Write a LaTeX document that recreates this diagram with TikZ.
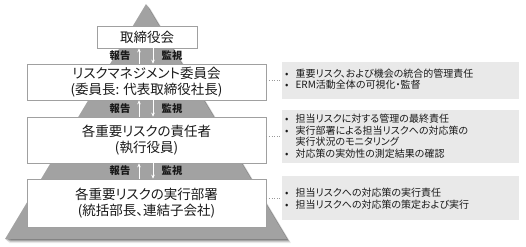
\documentclass[tikz,border=0pt]{standalone}
\usepackage{fontspec}
\setmainfont{Noto Sans CJK JP}[RawFeature=+palt]
\usetikzlibrary{arrows.meta}
\definecolor{tri}{RGB}{162,162,162}
\definecolor{boxline}{RGB}{160,160,160}
\definecolor{infofill}{RGB}{233,233,233}
\definecolor{txt}{RGB}{25,25,25}
\begin{document}
\begin{tikzpicture}[x=1pt,y=-1pt,
  mainbox/.style={draw=boxline, line width=0.7pt, fill=white, inner sep=0pt, align=center,
    font=\fontsize{13.5}{16}\selectfont, text=txt},
  infobox/.style={fill=infofill, draw=none, inner sep=0pt},
  lbl/.style={font=\bfseries\fontsize{10.3}{12}\selectfont, text=txt, inner sep=0pt},
  wa/.style={draw=white, line width=0.8pt, -{Stealth[length=4pt,width=3.6pt]}},
  dots/.style={draw=gray!80, dotted, line width=0.6pt},
  infotext/.style={anchor=west, inner sep=0pt, font=\fontsize{10}{11}\selectfont, align=left, text=txt}
]
\useasboundingbox (0,0) rectangle (526,246);
% pyramid with soft shadow
\foreach \o/\op in {4/0.08,3/0.12,2/0.18,1/0.25}{
  \fill[black, opacity=\op] (146+\o,4+\o) -- (5+\o,239+\o) -- (287+\o,239+\o) -- cycle;
}
\fill[tri] (146,4) -- (5,239) -- (287,239) -- cycle;

% right info boxes
\node[infobox, minimum width=237pt, minimum height=37pt] (i1) at (400.5,80.5) {};
\node[infobox, minimum width=237pt, minimum height=53pt] (i2) at (400.5,136.5) {};
\node[infobox, minimum width=237pt, minimum height=44pt] (i3) at (400.5,198) {};

% main boxes
\node[mainbox, minimum width=100pt, minimum height=22pt] (bd) at (147,37) {取締役会};
\node[mainbox, minimum width=239pt, minimum height=36pt] (cm) at (146.5,82) {リスクマネジメント委員会\\(委員長: 代表取締役社長)};
\node[mainbox, minimum width=239pt, minimum height=46pt] (rs) at (146.5,140) {各重要リスクの責任者\\(執行役員)};
\node[mainbox, minimum width=239pt, minimum height=48pt] (ex) at (146.5,203) {各重要リスクの実行部署\\(統括部長、連結子会社)};

% arrows
\coordinate (ax1) at (139,0);
\coordinate (ax2) at (153,0);
\draw[wa] (ax1 |- cm.north) -- (ax1 |- bd.south);
\draw[wa] (ax2 |- bd.south) -- (ax2 |- cm.north);
\draw[wa] (ax1 |- rs.north) -- (ax1 |- cm.south);
\draw[wa] (ax2 |- cm.south) -- (ax2 |- rs.north);
\draw[wa] (ax1 |- ex.north) -- (ax1 |- rs.south);
\draw[wa] (ax2 |- rs.south) -- (ax2 |- ex.north);

\node[lbl] (r1) at (120,56) {報告};
\node[lbl] (k1) at (172,56) {監視};
\node[lbl] (r2) at (120,108.5) {報告};
\node[lbl] (k2) at (172,108.5) {監視};
\node[lbl] (r3) at (120,171) {報告};
\node[lbl] (k3) at (172,171) {監視};

% dotted connectors
\draw[dots] (cm.east |- i1.west) -- (i1.west);
\draw[dots] (rs.east |- i2.west) -- (i2.west);
\draw[dots] (ex.east |- i3.west) -- (i3.west);

% info texts
\node[infotext] (t1) at (285,80.5) {\begin{tabular}{@{}l@{\hspace{7pt}}l@{}}
•&重要リスク、および機会の統合的管理責任\\
•&ERM活動全体の可視化・監督\end{tabular}};
\node[infotext] (t2) at (285,137.5) {\begin{tabular}{@{}l@{\hspace{7pt}}l@{}}
•&担当リスクに対する管理の最終責任\\
•&実行部署による担当リスクへの対応策の\\
&実行状況のモニタリング\\
•&対応策の実効性の測定結果の確認\end{tabular}};
\node[infotext] (t3) at (285,200) {\begin{tabular}{@{}l@{\hspace{7pt}}l@{}}
•&担当リスクへの対応策の実行責任\\
•&担当リスクへの対応策の策定および実行\end{tabular}};
\end{tikzpicture}
\end{document}
